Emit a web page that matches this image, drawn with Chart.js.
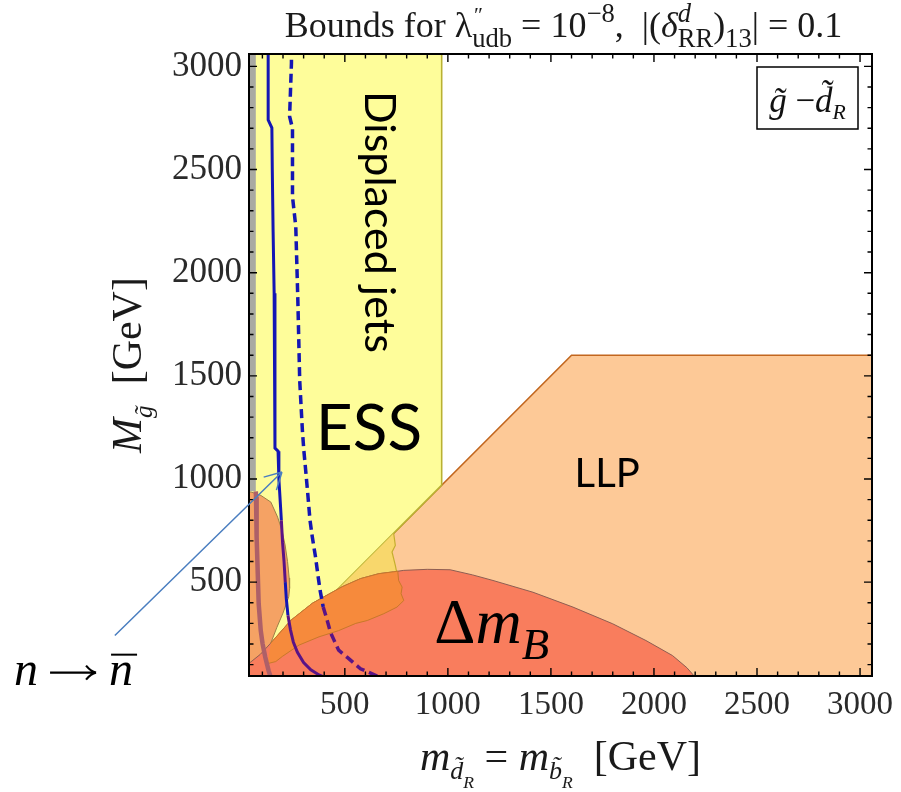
<!DOCTYPE html>
<html><head><meta charset="utf-8">
<script src="https://cdn.jsdelivr.net/npm/chart.js@4.4.1/dist/chart.umd.min.js"></script>
<style>html,body{margin:0;padding:0;background:#fff;}</style>
</head><body>
<canvas id="c" width="901" height="792"></canvas>
<script>
// ---------- data (GeV) ----------
const xTickValues = [500, 1000, 1500, 2000, 2500, 3000];
const yTickValues = [500, 1000, 1500, 2000, 2500, 3000];
const xRange = [35, 3058];
const yRange = [45, 3060];

// LLP excluded region (peach)
const llpRegion = [[0,0],[1600,1600],[3200,1600],[3200,-100],[0,-100]];
// Displaced jets region, part above the diagonal (yellow)
const djAboveRegion = [[0,0],[970,970],[970,3200],[-100,3200],[-100,0]];
// Displaced jets region, part below the diagonal (overlap with LLP, gold)
const djBelowRegion = [[737,737],[745,678],[729,646],[737,614],[745,581],[753,541],[761,508],[778,476],[773,444],[786,411],[753,379],[689,347],[609,314],[553,300],[470,265],[375,235],[278,195],[197,140],[165,115],[120,100],[100,100]];
// n - nbar region near the left edge (light orange)
const nnbarRegion = [[-100,940],[45,937],[93,920],[141,888],[174,815],[195,750],[210,680],[222,600],[230,520],[232,470],[228,430],[200,350],[170,280],[141,205],[120,140],[100,60],[85,-100],[-100,-100]];
// grey strip along the left edge
const greyRegion = [[-100,940],[68,940],[68,3200],[-100,3200]];
// Delta m_B region (salmon)
const dmbRegion = [[-100,95],[40,110],[90,150],[141,205],[238,315],[343,398],[488,478],[576,517],[665,541],[737,550],[786,557],[900,562],[1011,560],[1120,535],[1219,508],[1413,451],[1607,379],[1800,298],[1961,217],[2090,144],[2160,85],[2195,45],[2205,-100],[-100,-100]];
// overlap of displaced jets with Delta m_B (orange)
const djDmbRegion = [[141,205],[238,315],[343,398],[488,478],[576,517],[665,541],[737,550],[757,553],[761,508],[778,476],[773,444],[786,411],[753,379],[689,347],[609,314],[553,300],[470,265],[375,235],[278,195],[197,140],[165,115],[125,105]];
// dark band at the far left
const edgeBand = [[68,940],[69,914],[72,718],[77,557],[82,395],[92,265],[101,201],[114,136],[130,71],[138,46],[142,0]];
// n - nbar bounds: current (solid) and ESS (dashed)
const nnbarSolid = [[128,3100],[128,2741],[146,2702],[148,2500],[152,2200],[157,1900],[161,1600],[161,1150],[176,1135],[180,1000],[186,900],[192,800],[198,690],[205,600],[211,500],[216,420],[224,340],[236,270],[250,210],[270,160],[300,110],[335,75],[375,50],[400,40]];
const nnbarESS = [[241,3100],[241,3016],[232,2757],[246,2700],[246,2369],[262,2223],[272,1867],[281,1479],[294,1237],[301,1140],[310,1042],[320,930],[331,800],[342,720],[358,620],[370,530],[380,460],[395,380],[410,330],[431,255],[447,220],[470,170],[512,135],[576,80],[657,45],[700,30]];

// ---------- styles ----------
const BLUE = '#1416B4', PURPLE = '#5A1486';
const toPts = arr => arr.map(p => ({x: p[0], y: p[1]}));

function region(data, bg, border, bw, order) {
  return { data: toPts(data), showLine: true, fill: 'shape', backgroundColor: bg,
    borderColor: border, borderWidth: bw, pointRadius: 0, tension: 0, clip: 0, order };
}
const inSolidPurple = y => (y < 315) || (y >= 470 && y < 800);
const datasets = [
  region(llpRegion, '#FDC997', '#C2661E', 1.6, 100),
  region(djAboveRegion, '#FEFD9A', '#B9B133', 1.6, 90),
  region(djBelowRegion, '#F8D76C', '#C5AE2E', 1.2, 80),
  region(nnbarRegion, '#F5A264', '#9C8048', 1.0, 70),
  region(greyRegion, '#A9A9A2', '#A9A9A2', 0, 65),
  region(dmbRegion, '#F97D5D', '#8E5E52', 1.0, 60),
  region(djDmbRegion, '#F68A3C', '#C8782A', 1.0, 50),
  { data: toPts(edgeBand), showLine: true, fill: false, borderColor: '#AE6068', borderWidth: 4.5,
    pointRadius: 0, clip: 0, order: 40 },
  { data: toPts(nnbarSolid), showLine: true, fill: false, borderColor: BLUE, borderWidth: 3,
    pointRadius: 0, clip: 0, order: 20,
    segment: { borderColor: c => inSolidPurple((c.p0.parsed.y + c.p1.parsed.y) / 2) ? PURPLE : BLUE } },
  { data: toPts(nnbarESS), showLine: true, fill: false, borderColor: BLUE, borderWidth: 3.5,
    borderDash: [9, 5], pointRadius: 0, clip: 0, order: 10,
    segment: { borderColor: c => ((c.p0.parsed.y + c.p1.parsed.y) / 2 < 400) ? PURPLE : BLUE } }
];

// ---------- rich text helper ----------
function richText(ctx, runs, x, y, size, align, family) {
  const fontOf = r => (r.it ? 'italic ' : '') + (size * (r.s || 1)).toFixed(1) + 'px ' + family;
  const items = []; let total = 0; let i = 0;
  while (i < runs.length) {
    const r = runs[i]; ctx.font = fontOf(r);
    const w = ctx.measureText(r.t).width;
    if (r.stack && i + 1 < runs.length) {
      const r2 = runs[i + 1]; ctx.font = fontOf(r2);
      const w2 = ctx.measureText(r2.t).width;
      items.push({r, x: total, w}); items.push({r: r2, x: total, w: w2});
      total += Math.max(w, w2); i += 2;
    } else { items.push({r, x: total, w}); total += w; i++; }
  }
  const x0 = align === 'center' ? x - total / 2 : (align === 'right' ? x - total : x);
  ctx.textAlign = 'left'; ctx.textBaseline = 'alphabetic';
  for (const it of items) {
    ctx.font = fontOf(it.r);
    ctx.fillText(it.r.t, x0 + it.x + (it.r.dx || 0) * size, y + (it.r.dy || 0) * size);
    it.absX = x0 + it.x;
  }
  return items;
}

// ---------- annotations ----------
const SERIF = '"Liberation Serif", "Times New Roman", serif';
const SANS = 'Lato, "Liberation Sans", sans-serif';
const titleRuns = [
  {t: 'Bounds for '}, {t: 'λ'}, {t: '\u2033', s: 0.6, dy: -0.42, dx: 0.05, stack: true}, {t: 'udb', s: 0.74, dy: 0.28},
  {t: ' = 10'}, {t: '\u22128', s: 0.74, dy: -0.42}, {t: ',  |('}, {t: 'δ', it: true},
  {t: 'd', s: 0.74, dy: -0.42, it: true, stack: true}, {t: 'RR', s: 0.74, dy: 0.28}, {t: ')'},
  {t: '13', s: 0.74, dy: 0.28}, {t: '| = 0.1'}
];
const xTitleRuns = [
  {t: 'm', it: true}, {t: 'd\u0303', it: true, s: 0.62, dy: 0.22}, {t: 'R', it: true, s: 0.42, dy: 0.42},
  {t: ' = '}, {t: 'm', it: true}, {t: 'b\u0303', it: true, s: 0.62, dy: 0.22}, {t: 'R', it: true, s: 0.42, dy: 0.42},
  {t: '  [GeV]'}
];
const yTitleRuns = [{t: 'M', it: true}, {t: 'g\u0303', it: true, s: 0.6, dy: 0.25}, {t: '  [GeV]'}];
const legendRuns = [{t: 'g\u0303', it: true}, {t: ' \u2212'}, {t: 'd\u0303', it: true}, {t: 'R', it: true, s: 0.62, dy: 0.2}];

// label anchors in data coordinates
const labelDisplaced = [663, 2246];
const labelESS = [359, 1139];
const labelLLP = [1615, 960];
const labelDmB = [934, 207];
const labelNN = [-1105, 3];
const arrowTail = [-616, 241];
const arrowTip = [195, 1034];

const overlay = {
  id: 'overlay',
  beforeDraw(chart) {
    const c = chart.ctx; c.save(); c.fillStyle = '#fff'; c.fillRect(0, 0, chart.width, chart.height); c.restore();
  },
  afterDatasetsDraw(chart) {
    const {ctx, chartArea: a, scales: {x, y}} = chart;
    const P = p => [x.getPixelForValue(p[0]), y.getPixelForValue(p[1])];
    ctx.save();
    ctx.fillStyle = '#000';
    // Displaced jets (rotated)
    let [px, py] = P(labelDisplaced);
    ctx.save(); ctx.translate(px, py); ctx.rotate(Math.PI / 2);
    ctx.font = '43px ' + SANS; ctx.textAlign = 'center'; ctx.textBaseline = 'middle';
    ctx.fillText('Displaced jets', 0, 0); ctx.restore();
    // ESS
    [px, py] = P(labelESS);
    ctx.font = '64px ' + SANS; ctx.textAlign = 'left'; ctx.textBaseline = 'alphabetic';
    ctx.fillText('ESS', px, py);
    // LLP
    [px, py] = P(labelLLP);
    ctx.font = '40px ' + SANS; ctx.fillText('LLP', px, py);
    // Delta m_B
    [px, py] = P(labelDmB);
    richText(ctx, [{t: 'Δ'}, {t: 'm', it: true}, {t: 'B', it: true, s: 0.7, dy: 0.26}], px, py, 64, 'left', SERIF);
    // legend box
    const bw = 101, bh = 62, bx = a.right - 14 - bw, by = a.top + 13;
    ctx.fillStyle = '#fff'; ctx.fillRect(bx, by, bw, bh);
    ctx.strokeStyle = '#000'; ctx.lineWidth = 1.5; ctx.strokeRect(bx, by, bw, bh);
    ctx.fillStyle = '#111';
    richText(ctx, legendRuns, bx + bw / 2, by + 45, 35, 'center', SERIF);
    // frame
    ctx.strokeStyle = '#000'; ctx.lineWidth = 2;
    ctx.strokeRect(a.left, a.top, a.right - a.left, a.bottom - a.top);
    // inward ticks
    ctx.lineWidth = 1.4;
    ctx.beginPath();
    for (let v = 100; v <= 3000; v += 100) {
      const len = v % 500 === 0 ? 8 : 4.5;
      const tx = x.getPixelForValue(v);
      if (tx > a.left + 1 && tx < a.right - 1) {
        ctx.moveTo(tx, a.bottom); ctx.lineTo(tx, a.bottom - len);
        ctx.moveTo(tx, a.top); ctx.lineTo(tx, a.top + len);
      }
      const ty = y.getPixelForValue(v);
      if (ty > a.top + 1 && ty < a.bottom - 1) {
        ctx.moveTo(a.left, ty); ctx.lineTo(a.left + len, ty);
        ctx.moveTo(a.right, ty); ctx.lineTo(a.right - len, ty);
      }
    }
    ctx.stroke();
    ctx.restore();
  },
  afterDraw(chart) {
    const {ctx, chartArea: a, scales: {x, y}} = chart;
    const P = p => [x.getPixelForValue(p[0]), y.getPixelForValue(p[1])];
    ctx.save();
    ctx.fillStyle = '#1a1a1a';
    const cx = (a.left + a.right) / 2, cy = (a.top + a.bottom) / 2;
    richText(ctx, titleRuns, cx + 3, a.top - 17, 36, 'center', SERIF);
    richText(ctx, xTitleRuns, cx, a.bottom + 94, 42, 'center', SERIF);
    ctx.save(); ctx.translate(a.left - 108, cy); ctx.rotate(-Math.PI / 2);
    richText(ctx, yTitleRuns, 0, 0, 42, 'center', SERIF);
    ctx.restore();
    // n -> nbar label: italic n, long arrow, italic n with bar
    let [px, py] = P(labelNN);
    ctx.fillStyle = '#000';
    const first = richText(ctx, [{t: 'n', it: true}], px, py, 48, 'left', SERIF)[0];
    const ax0 = px + first.w + 12, ax1 = ax0 + 45, ay = py - 12;
    ctx.strokeStyle = '#000'; ctx.lineWidth = 2.2;
    ctx.beginPath(); ctx.moveTo(ax0, ay); ctx.lineTo(ax1, ay);
    ctx.moveTo(ax1 - 9, ay - 7); ctx.quadraticCurveTo(ax1 - 4, ay - 1, ax1 + 1, ay);
    ctx.moveTo(ax1 - 9, ay + 7); ctx.quadraticCurveTo(ax1 - 4, ay + 1, ax1 + 1, ay);
    ctx.stroke();
    const second = richText(ctx, [{t: 'n', it: true}], ax1 + 14, py, 48, 'left', SERIF)[0];
    ctx.lineWidth = 2;
    ctx.beginPath(); ctx.moveTo(second.absX + 2, py - 30); ctx.lineTo(second.absX + second.w + 4, py - 30); ctx.stroke();
    // arrow
    const [t0x, t0y] = P(arrowTail), [t1x, t1y] = P(arrowTip);
    ctx.strokeStyle = '#4A7EC0'; ctx.lineWidth = 1.5;
    ctx.beginPath(); ctx.moveTo(t0x, t0y); ctx.lineTo(t1x, t1y);
    const ang = Math.atan2(t1y - t0y, t1x - t0x);
    for (const s of [-1, 1]) {
      ctx.moveTo(t1x, t1y);
      ctx.lineTo(t1x - 19 * Math.cos(ang + s * 0.5), t1y - 19 * Math.sin(ang + s * 0.5));
    }
    ctx.stroke();
    ctx.restore();
  }
};

new Chart(document.getElementById('c'), {
  type: 'scatter',
  data: { datasets },
  options: {
    responsive: false, animation: false, devicePixelRatio: 1, events: [],
    layout: { padding: { left: 149, right: 29, top: 54, bottom: 66 } },
    plugins: { legend: { display: false }, tooltip: { enabled: false }, title: { display: false } },
    scales: {
      x: { type: 'linear', min: xRange[0], max: xRange[1], position: 'bottom',
        grid: { display: false, drawTicks: false }, border: { display: false },
        ticks: { font: {family: SERIF, size: 33}, color: '#2a2a2a', padding: 10, autoSkip: false, maxRotation: 0,
          callback: v => String(v) },
        afterBuildTicks: s => { s.ticks = xTickValues.map(v => ({value: v})); },
        afterFit: s => { s.height = 50; s.paddingLeft = 0; s.paddingRight = 0; } },
      y: { type: 'linear', min: yRange[0], max: yRange[1], position: 'left',
        grid: { display: false, drawTicks: false }, border: { display: false },
        ticks: { font: {family: SERIF, size: 35}, color: '#2a2a2a', padding: 7, autoSkip: false,
          callback: v => String(v) },
        afterBuildTicks: s => { s.ticks = yTickValues.map(v => ({value: v})); },
        afterFit: s => { s.width = 100; s.paddingTop = 0; s.paddingBottom = 0; } }
    }
  },
  plugins: [overlay]
});
</script>
</body></html>
